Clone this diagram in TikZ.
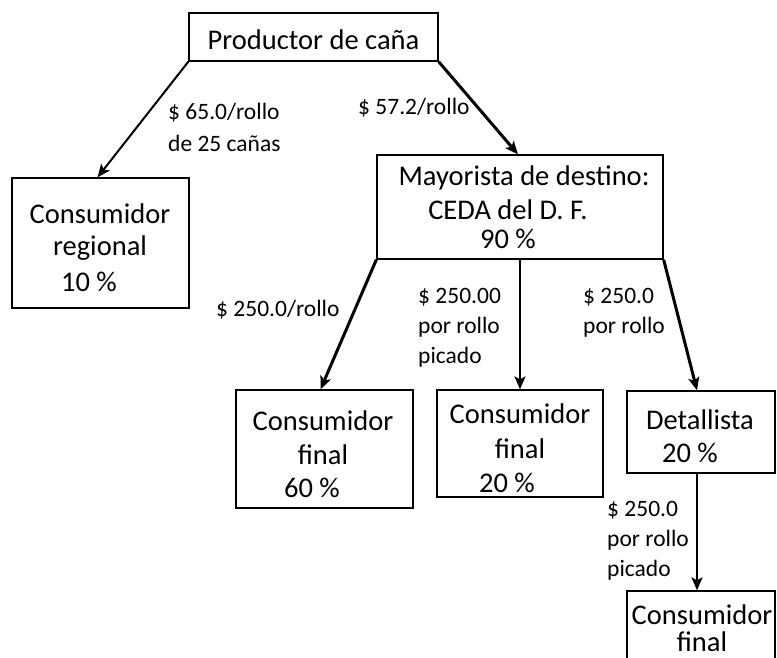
\documentclass[tikz,border=0pt]{standalone}
\usepackage{fontspec}
\setmainfont{Carlito}
\usetikzlibrary{arrows.meta}
\begin{document}
\begin{tikzpicture}[x=1pt,y=-1pt,
  box/.style={draw=black,line width=1.3pt,inner sep=0pt},
  big/.style={inner sep=0pt,font=\fontsize{28.5}{30}\selectfont},
  lbl/.style={inner sep=0pt,anchor=west,align=left,font=\fontsize{23.5}{30}\selectfont},
  arr/.style={line width=2pt,-{Stealth[length=13pt,width=11pt,inset=3pt]}},
  arrb/.style={line width=3pt,-{Stealth[length=13pt,width=11pt,inset=3pt]}}]
\clip (0,0) rectangle (777,657);
\fill[white] (0,0) rectangle (777,657);
% boxes
\node[box,minimum width=249pt,minimum height=48pt] (prod) at (313.5,37) {};
\node[box,minimum width=177pt,minimum height=130pt] (reg) at (100.5,243) {};
\node[box,minimum width=286pt,minimum height=104pt] (may) at (520,207) {};
\node[box,minimum width=177pt,minimum height=118pt] (cfa) at (324.5,449) {};
\node[box,minimum width=166pt,minimum height=107pt] (cfb) at (520,443.5) {};
\node[box,minimum width=148pt,minimum height=82pt] (det) at (701,432) {};
\node[box,minimum width=148pt,minimum height=110pt] (cfc) at (701,646) {};
% box texts
\node[big] (t1) at (313.5,40) {Productor de caña};
\node[big] (t2) at (100,214) {Consumidor};
\node[big] (t3) at (100,248) {regional};
\node[big] (t4) at (89,282) {10 \%};
\node[big] (t5) at (524,178) {Mayorista de destino:};
\node[big] (t6) at (508,210) {CEDA del D. F.};
\node[big] (t7) at (508,239) {90 \%};
\node[big] (t8) at (323,421) {Consumidor};
\node[big] (t9) at (323,455) {final};
\node[big] (t10) at (312,488) {60 \%};
\node[big] (t11) at (520,414) {Consumidor};
\node[big] (t12) at (520,449) {final};
\node[big] (t13) at (507,483) {20 \%};
\node[big] (t14) at (700,420) {Detallista};
\node[big] (t15) at (690,453) {20 \%};
\node[big,align=center,font=\fontsize{28.5}{27}\selectfont] (t16) at (702,628) {Consumidor\\final};
% labels
\node[lbl,font=\fontsize{23.5}{32}\selectfont] (l1) at (168,127) {\$ 65.0/rollo\\de 25 cañas};
\node[lbl] (l2) at (358,108) {\$ 57.2/rollo};
\node[lbl] (l3) at (216,310) {\$ 250.0/rollo};
\node[lbl] (l4) at (418,328) {\$ 250.00\\por rollo\\picado};
\node[lbl] (l5) at (583,313) {\$ 250.0\\por rollo};
\node[lbl] (l6) at (607,541) {\$ 250.0\\por rollo\\picado};
% arrows
\draw[arr] (prod.south west) -- ([xshift=-3pt]reg.north);
\draw[arrb] (prod.south east) -- ([xshift=-2pt]may.north);
\draw[arrb] (may.south west) -- ([xshift=-4pt]cfa.north);
\draw[arr] (may.south) -- (cfb.north);
\draw[arrb] (may.south east) -- ([xshift=-4pt]det.north);
\draw[arr] ([xshift=-4pt]det.south) -- ([xshift=-4pt]cfc.north);
\end{tikzpicture}
\end{document}
